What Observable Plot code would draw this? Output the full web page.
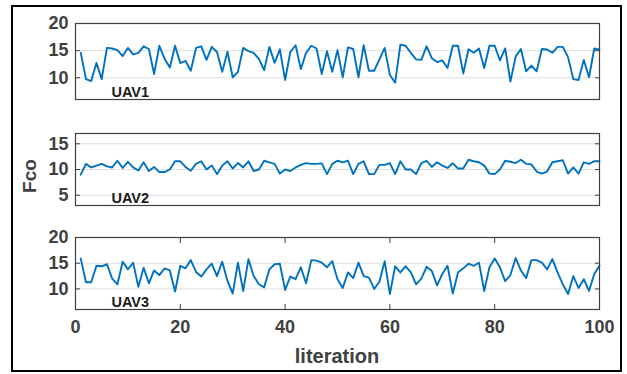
<!DOCTYPE html>
<html><head><meta charset="utf-8">
<script src="https://cdn.jsdelivr.net/npm/d3@7"></script>
<script src="https://cdn.jsdelivr.net/npm/@observablehq/plot@0.6"></script>
<style>
body{margin:0;background:#fff;}
#wrap{position:relative;width:627px;height:374px;overflow:hidden;font-family:"Liberation Sans",Arial,sans-serif;background:#fff;}
.panel{position:absolute;left:0;}
#border{position:absolute;left:11px;top:5px;width:611px;height:367px;box-sizing:border-box;border:2.5px solid #000;pointer-events:none;}
.lbl{position:absolute;font-weight:bold;color:#404040;white-space:nowrap;}
#ylab{left:30px;top:176px;font-size:19px;transform:translate(-50%,-50%) rotate(-90deg);}
#xlab{left:337px;top:356px;font-size:20px;transform:translate(-50%,-50%);}
</style></head>
<body><div id="wrap"><div id="border"></div></div>
<script>
const iterations = d3.range(1, 101);
const uav1 = [14.6,9.75,9.4,12.75,9.75,15.5,15.4,15.1,14,15.5,14.3,14.6,15.8,15.3,10.7,15.9,13.5,11.9,15.9,12.7,
13.1,11.3,15.5,15.8,13.3,15.7,14.75,11.1,14.8,10.1,11.1,15.5,14.9,14.6,13.5,11.4,15.7,12.75,15.25,9.6,
14.75,16,11.6,14.6,15.9,15.4,10.7,14.9,11.1,15.1,10.1,15.6,15.3,10.1,16,11.3,11.3,13.4,15.5,10.5,
9.1,16.1,15.9,14.6,13.4,13.3,15.8,13.6,12.9,13.2,11.8,15.9,15.9,10.8,15.25,14.6,15.4,11.8,15.9,15.9,
13.2,15.4,9.3,13.9,15.3,11.2,12.25,11.2,15.3,15.2,14.6,15.7,15.7,13.8,9.75,9.6,13.3,10.1,15.4,15.2];
const uav2 = [9.0,11.1,10.4,10.75,11.1,10.6,10.4,11.7,10.3,11.5,10.4,9.8,11.4,9.7,10.5,9.5,9.5,10,11.6,11.6,
10.5,9.75,11.1,11.6,10,10.8,9.1,10.75,11.6,10.2,11.25,10.4,11.6,9.7,10,11.7,11.4,11.1,9.2,10,
9.7,10.4,10.9,11.25,11.1,11.1,11.2,9.1,11.1,11.7,11.4,11.7,9.1,11.1,11.6,9.1,9.1,10.9,10.9,11.25,
9.1,11.6,10,10,9.1,11.25,11.7,10.5,11.4,10.75,10.3,11.2,10.2,10.2,11.9,11.6,11.4,10.75,9.2,9.1,
10,11.7,11.5,11.25,11.9,11.1,11,9.6,9.2,9.6,11.4,11.6,11.8,9.2,10.4,9.2,11.4,11.1,11.6,11.6];
const uav3 = [15.9,11.3,11.3,14.5,14.4,14.8,12,10.9,15.3,13.8,15.1,10.4,14.1,11.1,13.6,12.7,14,13.6,9.5,14.5,
14,15.6,13.3,12.4,13.8,14.9,12.5,15.3,11.6,9.1,15.1,9.6,15.8,12.5,10.9,10.3,13.8,14.8,14.9,9.8,
12.4,11.9,14.2,11.1,15.6,15.5,15.1,14.2,15.4,11.9,10.2,13.2,12.1,15.1,12.5,12.2,10,11.4,15.4,9,
14.4,13.2,14.4,13.2,10.9,12,14.3,13.5,10.7,12.9,14.5,9.1,13.2,14,14.9,14.5,15.1,9.6,14.2,15.9,
14.2,11.5,12.7,16,13.6,12.1,15.6,15.6,15.1,13.8,15.8,13.2,10.9,9,12.5,10.2,11.9,9.6,12.9,14.5];
const labels = ["UAV1", "UAV2", "UAV3"];
const xTicks = [0, 20, 40, 60, 80, 100];
const yTicks1 = [10, 15, 20];
const yTicks2 = [5, 10, 15];
const yTicks3 = [10, 15, 20];

const wrap = document.getElementById("wrap");
const axisColor = "#404040";

function panel({values, yDomain, yTicks, label, top, height, mt, mb, xAxis}) {
  const rows = iterations.map((it, i) => ({iteration: it, fco: values[i]}));
  const marks = [
    Plot.gridY(yTicks, {stroke: "#dedede", strokeOpacity: 1, strokeWidth: 1}),
    Plot.line(rows, {x: "iteration", y: "fco", stroke: "#0072BD", strokeWidth: 1.9}),
    Plot.axisY(yTicks, {anchor: "left", tickSize: -5, tickPadding: 12, fontSize: 18, fontWeight: "bold", color: axisColor, label: null}),
    Plot.axisY(yTicks, {anchor: "right", tickSize: -5, tickFormat: () => "", color: axisColor, label: null}),
    Plot.text([label], {frameAnchor: "bottom-left", dx: 36, dy: -3, text: d => d, textAnchor: "start", lineAnchor: "bottom", fontSize: 14.5, fontWeight: "bold", fill: "#1a1a1a"}),
    Plot.frame({stroke: axisColor, strokeWidth: 1.2})
  ];
  if (xAxis) {
    marks.push(Plot.axisX(xTicks, {anchor: "bottom", tickSize: -5, tickPadding: 16, fontSize: 18, fontWeight: "bold", color: axisColor, label: null}));
    marks.push(Plot.axisX(xTicks, {anchor: "top", tickSize: -5, tickFormat: () => "", color: axisColor, label: null}));
  }
  const svg = Plot.plot({
    width: 627, height,
    marginLeft: 75, marginRight: 28, marginTop: mt, marginBottom: mb,
    x: {domain: [0, 100], axis: null},
    y: {domain: yDomain, axis: null},
    style: {fontFamily: "'Liberation Sans', Arial, sans-serif", background: "transparent", overflow: "visible"},
    marks
  });
  svg.classList.add("panel");
  svg.style.top = top + "px";
  wrap.appendChild(svg);
}

panel({values: uav1, yDomain: [6, 20], yTicks: yTicks1, label: labels[0], top: 0, height: 110, mt: 23, mb: 11, xAxis: false});
panel({values: uav2, yDomain: [3, 17], yTicks: yTicks2, label: labels[1], top: 110, height: 105, mt: 23, mb: 10, xAxis: false});
panel({values: uav3, yDomain: [6, 20], yTicks: yTicks3, label: labels[2], top: 215, height: 159, mt: 22, mb: 65, xAxis: true});

const yl = document.createElement("div"); yl.className = "lbl"; yl.id = "ylab"; yl.textContent = "Fco"; wrap.appendChild(yl);
const xl = document.createElement("div"); xl.className = "lbl"; xl.id = "xlab"; xl.textContent = "literation"; wrap.appendChild(xl);
wrap.appendChild(document.getElementById("border"));
</script>
</body></html>
